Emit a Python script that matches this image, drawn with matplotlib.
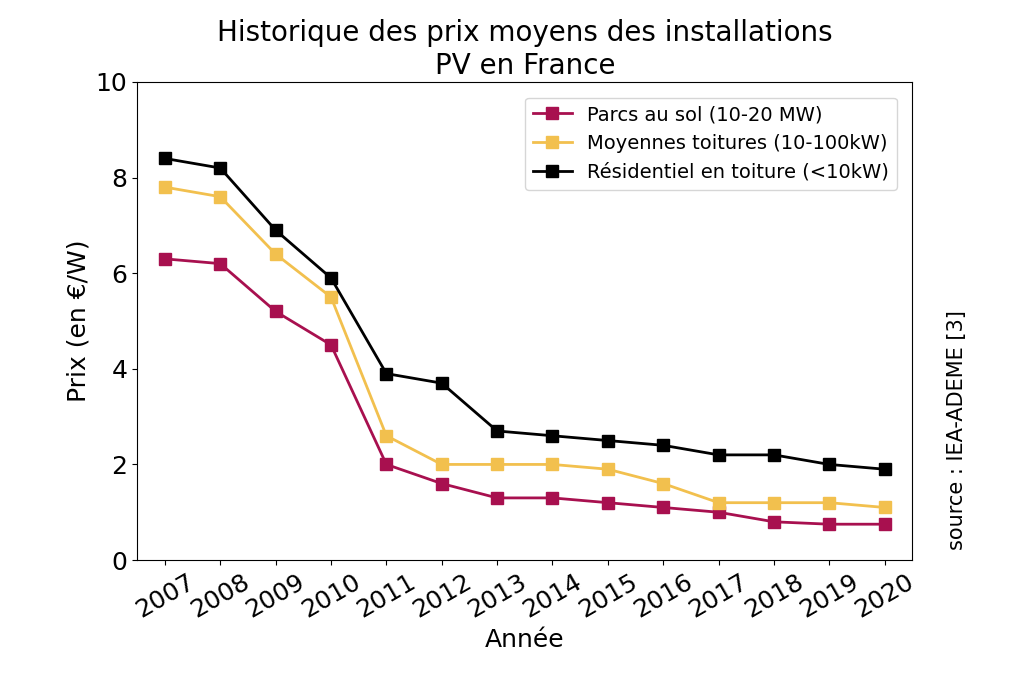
import matplotlib
matplotlib.use("Agg")
import matplotlib.pyplot as plt

years = [str(y) for y in range(2007, 2021)]
sol = [6.3, 6.2, 5.2, 4.5, 2.0, 1.6, 1.3, 1.3, 1.2, 1.1, 1.0, 0.8, 0.75, 0.75]
moy = [7.8, 7.6, 6.4, 5.5, 2.6, 2.0, 2.0, 2.0, 1.9, 1.6, 1.2, 1.2, 1.2, 1.1]
res = [8.4, 8.2, 6.9, 5.9, 3.9, 3.7, 2.7, 2.6, 2.5, 2.4, 2.2, 2.2, 2.0, 1.9]

fig = plt.figure(figsize=(10.24, 6.83), dpi=100)
ax = fig.add_axes([0.134, 0.18, 0.757, 0.70])
x = range(len(years))
ax.plot(x, sol, marker='s', color='#a8104f', lw=2, ms=8, label='Parcs au sol (10-20 MW)')
ax.plot(x, moy, marker='s', color='#f2c04e', lw=2, ms=8, label='Moyennes toitures (10-100kW)')
ax.plot(x, res, marker='s', color='black', lw=2, ms=8, label='Résidentiel en toiture (<10kW)')
ax.set_ylim(0, 10)
ax.set_xlim(-0.5, 13.5)
ax.set_xticks(list(x))
ax.set_xticklabels(years, rotation=30, fontsize=18)
ax.tick_params(axis='y', labelsize=18)
ax.set_yticks([0, 2, 4, 6, 8, 10])
ax.set_xlabel('Année', fontsize=18)
ax.set_ylabel('Prix (en €/W)', fontsize=18)
ax.set_title('Historique des prix moyens des installations\nPV en France', fontsize=20)
ax.legend(loc='upper right', fontsize=14, borderaxespad=0.8)
fig.text(0.935, 0.37, 'source : IEA-ADEME [3]', rotation=90, fontsize=15, va='center', ha='center')
fig.savefig('out.png', dpi=100)
